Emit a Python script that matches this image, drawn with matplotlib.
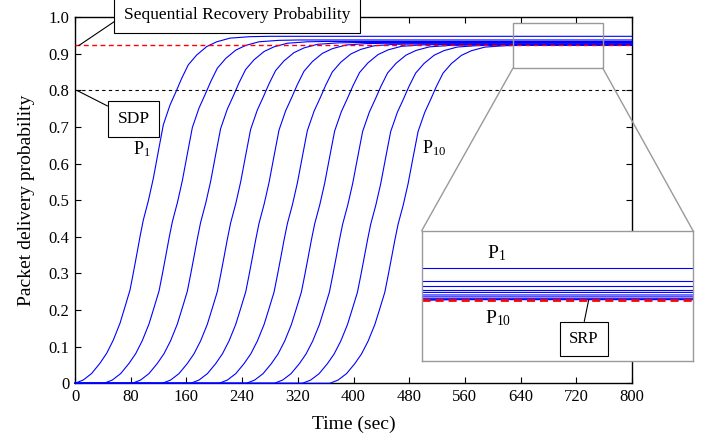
import numpy as np
import matplotlib
matplotlib.use('Agg')
import matplotlib.pyplot as plt
from matplotlib.patches import Rectangle, ConnectionPatch

plt.rcParams['font.family'] = ['Liberation Serif', 'DejaVu Serif']
plt.rcParams['mathtext.fontset'] = 'custom'
plt.rcParams['mathtext.rm'] = 'Liberation Serif'
plt.rcParams['mathtext.it'] = 'Liberation Serif:italic'


# shape of P1 (time in sec, delivery probability)
base_t = [0, 11.9, 24.0, 35.9, 45.5, 55.0, 64.6, 71.8, 79.0, 83.7, 88.6,
          93.4, 98.1, 105.5, 112.5, 119.6, 126.8, 136.4, 145.1, 153.2,
          162.7, 174.8, 189.2, 203.5, 222.6, 251.3, 280]
base_p = [0, 0.009, 0.027, 0.055, 0.082, 0.118, 0.164, 0.209, 0.255, 0.301, 0.351,
          0.401, 0.446, 0.500, 0.560, 0.633, 0.706, 0.760, 0.797, 0.833,
          0.870, 0.897, 0.920, 0.933, 0.943, 0.947, 0.948]

# P1..P10: start delay relative to P1 and the level each one settles at
delays = [0, 41.7, 82.3, 125.4, 166.2, 206.9, 246.1, 286.3, 326.6, 365.9]
finals = [0.948, 0.938, 0.934, 0.931, 0.929, 0.927, 0.9255, 0.924, 0.9236, 0.9233]

sdp = 0.8     # black dashed
srp = 0.923   # red dashed
t_end = 800

xticks = list(range(0, 801, 80))
yticks = [0, 0.1, 0.2, 0.3, 0.4, 0.5, 0.6, 0.7, 0.8, 0.9, 1.0]
ytick_labels = ['0', '0.1', '0.2', '0.3', '0.4', '0.5', '0.6', '0.7', '0.8', '0.9', '1.0']


def build_curve(k):
    d = delays[k]
    t = np.concatenate(([0, d], np.array(base_t[1:]) + d, [t_end]))
    p = np.concatenate(([0, 0], np.array(base_p[1:]) * finals[k] / finals[0], [finals[k]]))
    return t, p


curves = [build_curve(k) for k in range(len(delays))]

fig = plt.figure(figsize=(7.11, 4.43), dpi=100)
ax = fig.add_axes([0.1055, 0.1348, 0.7834, 0.8262])

for t, p in curves:
    ax.plot(t, p, color='#0000ff', lw=0.8, clip_on=False, zorder=3)

ax.axhline(sdp, color='k', lw=0.8, ls=(0, (3, 3)), zorder=4)
ax.axhline(srp, color='#ff0000', lw=1.0, ls=(0, (3.5, 2.5)), zorder=4)

ax.set_xlim(0, 800)
ax.set_ylim(0, 1.0)
ax.set_xticks(xticks)
ax.set_yticks(yticks)
ax.set_yticklabels(ytick_labels)
ax.tick_params(direction='in', top=True, right=True, length=4, width=0.8,
               labelsize=12, pad=4)
for s in ax.spines.values():
    s.set_linewidth(1.0)

ax.set_xlabel('Time (sec)', fontsize=14, labelpad=8)
ax.set_ylabel('Packet delivery probability', fontsize=14, labelpad=10)

box_kw = dict(boxstyle='square,pad=0.55', fc='white', ec='k', lw=0.8)
ax.annotate('Sequential Recovery Probability', xy=(5.7, srp), xytext=(233, 1.006),
            ha='center', va='center', fontsize=12.5, bbox=box_kw,
            arrowprops=dict(arrowstyle='-', color='k', lw=0.8, relpos=(0, 0.5),
                            shrinkA=0, shrinkB=0),
            annotation_clip=False, zorder=6)
ax.annotate('SDP', xy=(2.9, sdp), xytext=(84, 0.722),
            ha='center', va='center', fontsize=12.5, bbox=box_kw,
            arrowprops=dict(arrowstyle='-', color='k', lw=0.8, relpos=(0, 1),
                            shrinkA=0, shrinkB=0),
            zorder=6)
ax.text(83, 0.64, r'P$_\mathrm{1}$', fontsize=13, ha='left', va='center')
ax.text(498, 0.643, r'P$_\mathrm{10}$', fontsize=13, ha='left', va='center')

# zoom box on the plateau
zoom_x = (629, 758)
zoom_y = (0.861, 0.985)
ax.add_patch(Rectangle((zoom_x[0], zoom_y[0]), zoom_x[1] - zoom_x[0],
                       zoom_y[1] - zoom_y[0], fill=False, ec='#999999', lw=1.0, zorder=5))

# inset
axin = fig.add_axes([0.5931, 0.1851, 0.3816, 0.2941])
for t, p in curves:
    axin.plot(t, p, color='#0000ff', lw=0.8)
axin.axhline(srp, color='#ff0000', lw=2.0, ls=(0, (2.9, 1.8)))
axin.set_xlim(630, 760)
axin.set_ylim(0.875, 0.9776)
axin.set_xticks([])
axin.set_yticks([])
for s in axin.spines.values():
    s.set_color('#999999')
    s.set_linewidth(1.0)

axin.text(661.4, 0.9598, r'P$_\mathrm{1}$', fontsize=14, ha='left', va='center')
axin.text(660.3, 0.9086, r'P$_\mathrm{10}$', fontsize=14, ha='left', va='center')
axin.annotate('SRP', xy=(710, srp), xytext=(707.8, 0.8923),
              ha='center', va='center', fontsize=12, bbox=box_kw,
              arrowprops=dict(arrowstyle='-', color='k', lw=0.8, relpos=(0.44, 1),
                              shrinkA=0, shrinkB=0))

for cx, ix in ((zoom_x[0], 0), (zoom_x[1], 1)):
    con = ConnectionPatch(xyA=(cx, zoom_y[0]), coordsA=ax.transData,
                          xyB=(ix, 1), coordsB=axin.transAxes,
                          color='#999999', lw=1.0)
    fig.add_artist(con)

fig.savefig('out.png', dpi=100)
